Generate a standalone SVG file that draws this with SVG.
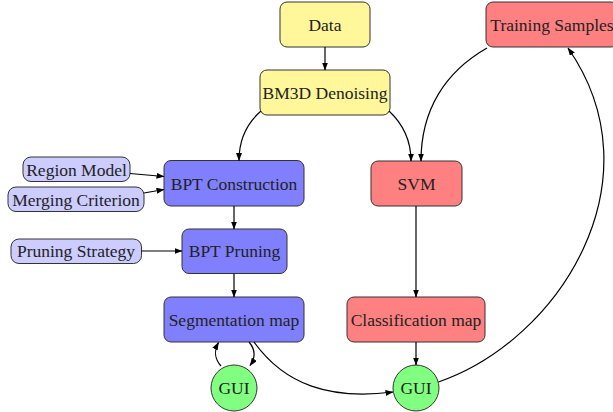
<svg xmlns="http://www.w3.org/2000/svg" width="613" height="412" viewBox="0 0 613 412">
<defs>
<marker id="arr" markerWidth="8" markerHeight="6" refX="7.5" refY="3" orient="auto" markerUnits="userSpaceOnUse">
<path d="M0,0 L8,3 L0,6 Z" fill="#000"/>
</marker>
<style>
.box{stroke:#333;stroke-width:1;}
.y{fill:#FFF799;}
.b{fill:#8080FF;}
.lb{fill:#CCCCFF;}
.r{fill:#FF8080;}
.g{fill:#80FF80;}
.t{font-family:'Liberation Serif','DejaVu Serif',serif;font-size:17.5px;fill:#222;text-anchor:middle;}
.e{fill:none;stroke:#000;stroke-width:1.2;marker-end:url(#arr);}
</style>
</defs>
<rect width="613" height="412" fill="#fff"/>
<g id="data"><rect class="box y" x="280" y="2" width="90" height="45" rx="7"/><text class="t" x="325" y="30.5">Data</text></g>
<g id="bm3d"><rect class="box y" x="260" y="70" width="130" height="45" rx="7"/><text class="t" x="325" y="98.5">BM3D Denoising</text></g>
<g id="training"><rect class="box r" x="486" y="2" width="132" height="45" rx="7"/><text class="t" x="552" y="30.5">Training Samples</text></g>
<g id="svm"><rect class="box r" x="371" y="161" width="91" height="45" rx="7"/><text class="t" x="416.5" y="189.5">SVM</text></g>
<g id="bptc"><rect class="box b" x="164" y="160.5" width="140" height="45.5" rx="7"/><text class="t" x="234" y="189.5">BPT Construction</text></g>
<g id="region"><rect class="box lb" x="23" y="157" width="107" height="24.5" rx="8"/><text class="t" x="76.5" y="175.5">Region Model</text></g>
<g id="merging"><rect class="box lb" x="8" y="187" width="136" height="24.5" rx="8"/><text class="t" x="76" y="205.5">Merging Criterion</text></g>
<g id="pruning"><rect class="box b" x="182" y="229" width="105" height="44.5" rx="7"/><text class="t" x="234.5" y="257">BPT Pruning</text></g>
<g id="strategy"><rect class="box lb" x="11" y="239" width="130.5" height="24.5" rx="8"/><text class="t" x="76" y="257">Pruning Strategy</text></g>
<g id="seg"><rect class="box b" x="164" y="297" width="140" height="45" rx="7"/><text class="t" x="234" y="325.5">Segmentation map</text></g>
<g id="class"><rect class="box r" x="347" y="297" width="138" height="45" rx="7"/><text class="t" x="416" y="325.5">Classification map</text></g>
<g id="gui1"><circle class="box g" cx="234" cy="388" r="23"/><text class="t" x="234" y="394">GUI</text></g>
<g id="gui2"><circle class="box g" cx="416" cy="388" r="23"/><text class="t" x="416" y="394">GUI</text></g>
<g id="connectors">
<path class="e" d="M325 47 L325 70"/>
<path class="e" d="M261 111 C246 124, 239 140, 239 160.5"/>
<path class="e" d="M389 111 C403 124, 411 140, 411 161"/>
<path class="e" d="M487 48 C445 72, 421 110, 421 161"/>
<path class="e" d="M130 173.5 L164 176.5"/>
<path class="e" d="M144 193 L164 189.5"/>
<path class="e" d="M141.5 251 L182 251"/>
<path class="e" d="M234 206 L234 229"/>
<path class="e" d="M234 273.5 L234 297"/>
<path class="e" d="M416 206 L416 297"/>
<path class="e" d="M416 342 L416 365"/>
<path class="e" d="M221 366 C214 358, 214 351, 218.5 342.5"/>
<path class="e" d="M249 342 C255 349, 256 357, 250 365.5"/>
<path class="e" d="M254 342 C285 385, 330 400, 393 392"/>
<path class="e" d="M438.5 382 C560 340, 660 180, 568 48"/>
</g>
</svg>
